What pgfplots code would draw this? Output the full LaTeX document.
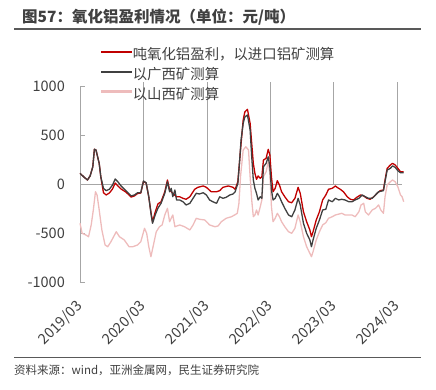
\documentclass[border=0pt]{standalone}
\usepackage{fontspec}
\setmainfont{Noto Sans CJK SC}
\usepackage{pgfplots}
\pgfplotsset{compat=1.18}
\usepackage{pgfplotstable}
\definecolor{lnred}{HTML}{C00000}
\definecolor{lngray}{HTML}{404040}
\definecolor{lnpink}{HTML}{EEBCBC}
\definecolor{caxis}{HTML}{A6A6A6}
\definecolor{ctext}{HTML}{404040}
\definecolor{crule}{HTML}{595959}

\pgfplotstableread{
m v
0 109
0.8 68
1.4 41
1.9 82
2.4 176
2.7 354
3.0 347
3.3 278
3.6 211
3.9 74
4.4 -44
4.9 -68
5.5 -54
6.1 -10
6.6 51
7.1 23
7.7 -20
8.6 -68
9.6 -122
10.2 -112
10.8 -89
11.4 -89
11.9 31
12.4 13
12.9 -130
13.3 -299
13.6 -401
14.1 -316
14.6 -248
15.2 -197
15.9 -95
16.4 23
16.8 -79
17.1 -44
17.4 -130
17.8 -61
18.1 -163
18.7 -163
19.3 -181
19.9 -214
20.6 -197
21.2 -146
21.8 -95
22.4 -102
23.1 -89
23.7 -112
24.3 -163
24.9 -181
25.6 -197
26.2 -130
26.8 -146
27.4 -136
28.1 -112
28.7 -102
29.1 -79
29.6 7
29.9 211
30.2 449
30.6 619
30.9 683
31.4 704
31.9 551
32.2 278
32.5 41
32.8 -44
33.1 -95
33.4 -163
33.8 -130
34.1 -146
34.4 176
34.9 211
35.3 278
35.6 176
35.9 -61
36.2 -163
36.6 -146
37.0 -95
37.4 -130
37.8 -181
38.4 -248
39.1 -316
39.7 -334
40.3 -265
40.9 -146
41.3 -214
41.9 -401
42.5 -503
43.1 -571
43.4 -640
43.7 -571
44.3 -452
44.9 -367
45.5 -265
46.1 -258
46.6 -163
47.3 -181
47.9 -146
48.5 -163
49.1 -156
49.7 -163
50.4 -181
51.0 -181
51.6 -163
52.3 -146
52.9 -112
53.5 -130
54.1 -146
54.8 -146
55.4 -112
56.0 -79
56.9 -68
57.2 23
57.6 143
58.2 160
58.6 184
59.1 170
59.6 136
60.1 115
60.7 115
}\graytab

\pgfplotstableread{
m v
0 109
0.8 68
1.4 41
1.9 82
2.4 176
2.7 354
3.0 347
3.3 278
3.6 211
3.9 74
4.4 -89
4.9 -112
5.5 -92
6.1 -51
6.6 10
7.1 -20
7.7 -51
8.6 -82
9.6 -133
10.2 -122
10.8 -97
11.4 -92
11.9 26
12.4 10
12.9 -133
13.3 -286
13.6 -388
14.1 -286
14.6 -204
15.2 -181
15.9 -79
16.4 41
16.8 -61
17.4 -95
18.1 -130
18.7 -130
19.3 -146
19.9 -156
20.6 -130
21.5 -54
22.1 -34
23.1 -20
23.7 -34
24.6 -79
25.6 -79
26.2 -68
26.8 -34
27.8 -20
28.7 -34
29.1 -54
29.6 23
30.1 347
30.6 653
30.9 734
31.4 762
31.9 619
32.2 415
32.5 211
32.8 109
33.1 48
33.4 82
33.8 58
34.1 74
34.4 245
34.9 262
35.3 354
35.6 296
35.9 74
36.2 -79
36.6 -44
37.0 34
37.4 -10
37.8 -79
38.4 -130
39.1 -181
39.7 -191
40.3 -146
40.9 -34
41.3 -95
41.9 -283
42.5 -385
43.1 -469
43.4 -538
43.7 -487
44.3 -367
44.9 -283
45.5 -163
46.1 -112
46.6 -54
47.3 -44
47.9 -20
48.2 -34
48.8 -54
49.4 -79
50.1 -130
50.7 -156
51.3 -163
51.9 -136
52.6 -112
53.2 -122
53.8 -146
54.4 -156
55.1 -130
55.7 -95
56.3 -68
56.9 -61
57.2 41
57.6 160
58.2 194
58.6 211
59.1 194
59.6 160
60.1 125
60.7 125
}\redtab

\pgfplotstableread{
m v
0 -401
0.4 -503
1.1 -520
1.6 -538
2.1 -418
2.5 -265
2.9 -79
3.2 -112
3.6 -265
4.1 -469
4.7 -622
5.2 -640
5.8 -589
6.8 -487
7.4 -538
8.3 -571
9.2 -640
9.9 -640
10.8 -622
11.4 -589
12.1 -452
12.5 -503
12.9 -640
13.3 -742
13.7 -640
14.3 -487
14.9 -436
15.4 -418
15.9 -316
16.4 -248
16.8 -385
17.4 -316
17.8 -436
18.7 -418
19.6 -436
20.6 -469
21.2 -418
21.8 -350
22.4 -360
23.4 -367
24.3 -418
25.3 -436
25.9 -428
26.5 -385
27.4 -350
28.4 -334
29.0 -316
29.5 -299
29.8 -197
30.1 74
30.6 347
31.1 380
31.6 347
31.9 74
32.2 -163
32.5 -334
32.8 -316
33.1 -265
33.4 -316
33.8 -232
34.1 -163
34.4 74
34.9 125
35.3 227
35.6 109
35.9 -232
36.2 -385
36.6 -350
37.0 -299
37.4 -334
37.8 -385
38.4 -436
39.1 -487
39.7 -503
40.3 -452
40.9 -316
41.3 -385
41.9 -538
42.5 -640
43.1 -707
43.4 -742
43.7 -691
44.3 -571
44.9 -487
45.5 -418
46.1 -395
46.6 -350
47.3 -334
47.9 -316
49.1 -299
49.7 -316
51.0 -316
51.6 -334
52.3 -283
52.7 -214
53.2 -197
53.5 -283
54.1 -316
54.8 -265
55.4 -248
56.0 -214
56.4 -265
56.9 -299
57.2 -130
57.6 -10
58.2 23
58.6 41
59.1 23
59.6 -28
60.1 -112
60.4 -130
60.7 -181
}\pinktab

\begin{document}
\begin{tikzpicture}
\path (0,0) rectangle (436bp,390bp);
\node[anchor=west, inner sep=0pt, text=ctext, font=\fontsize{15.5bp}{18bp}\selectfont\bfseries] at (22bp,372.5bp) {图57：氧化铝盈利情况（单位：元/吨）};
\draw[color=crule, line width=1.5bp] (14bp,361bp) -- (421bp,361bp);
\begin{axis}[
  at={(80bp,108bp)}, anchor=south west,
  scale only axis, width=323.7bp, height=196bp,
  xmin=0, xmax=60.7, ymin=-1000, ymax=1000,
  axis lines*=left,
  x axis line style={draw=none},
  y axis line style={draw=caxis, line width=0.8bp},
  xtick={0,11.9,23.8,35.7,47.6,59.5},
  xticklabels={2019/03,2020/03,2021/03,2022/03,2023/03,2024/03},
  xtick style={draw=none},
  xticklabel style={rotate=45, anchor=east, inner sep=0pt, font=\fontsize{14.5bp}{17bp}\selectfont, text=ctext},
  xticklabel shift=22bp,
  ytick={-1000,-500,0,500,1000},
  ytick style={draw=caxis, line width=0.8bp},
  tick align=inside,
  major tick length=5bp,
  yticklabel style={inner sep=0pt, xshift=-15bp, font=\fontsize{14.5bp}{17bp}\selectfont, text=ctext},
  /pgf/number format/assume math mode=true,
  /pgf/number format/1000 sep={},
  clip=false,
  legend cell align=left,
  legend image code/.code={\fill[#1] (0bp,-0.55bp) rectangle (30bp,0.55bp);},
  legend style={draw=none, fill=none, inner sep=0pt, at={(axis description cs:0.063,1.206)}, anchor=north west, font=\fontsize{14.4bp}{17bp}\selectfont, text=ctext, row sep=7.2bp},
]
\addlegendimage{lnred, fill=lnred, line width=0.2bp}
\addlegendentry{\raisebox{-5.3bp}{吨氧化铝盈利，以进口铝矿测算}}
\addlegendimage{lngray, fill=lngray, line width=0.2bp}
\addlegendentry{\raisebox{-5.3bp}{以广西矿测算}}
\addlegendimage{lnpink, fill=lnpink, line width=0.2bp}
\addlegendentry{\raisebox{-5.3bp}{以山西矿测算}}
\draw[caxis, line width=0.8bp] (axis cs:0,0) -- (axis cs:60.4,0);
\pgfplotsinvokeforeach{11.9,23.8,35.7,47.6,59.5}{\draw[caxis, line width=0.8bp] (axis cs:#1,0) -- ++(0,4bp);}
\addplot[lnpink, line width=1.3bp, line join=round, forget plot] table {\pinktab};
\addplot[lnred, line width=1.3bp, line join=round, forget plot] table {\redtab};
\addplot[lngray, line width=1.3bp, line join=round, forget plot] table {\graytab};
\end{axis}
\draw[color=crule, line width=1.2bp] (14bp,32.7bp) -- (421bp,32.7bp);
\node[anchor=west, inner sep=0pt, text=ctext, font=\fontsize{11.5bp}{13bp}\selectfont] at (14bp,20bp) {资料来源：wind，亚洲金属网，民生证券研究院};
\end{tikzpicture}
\end{document}
